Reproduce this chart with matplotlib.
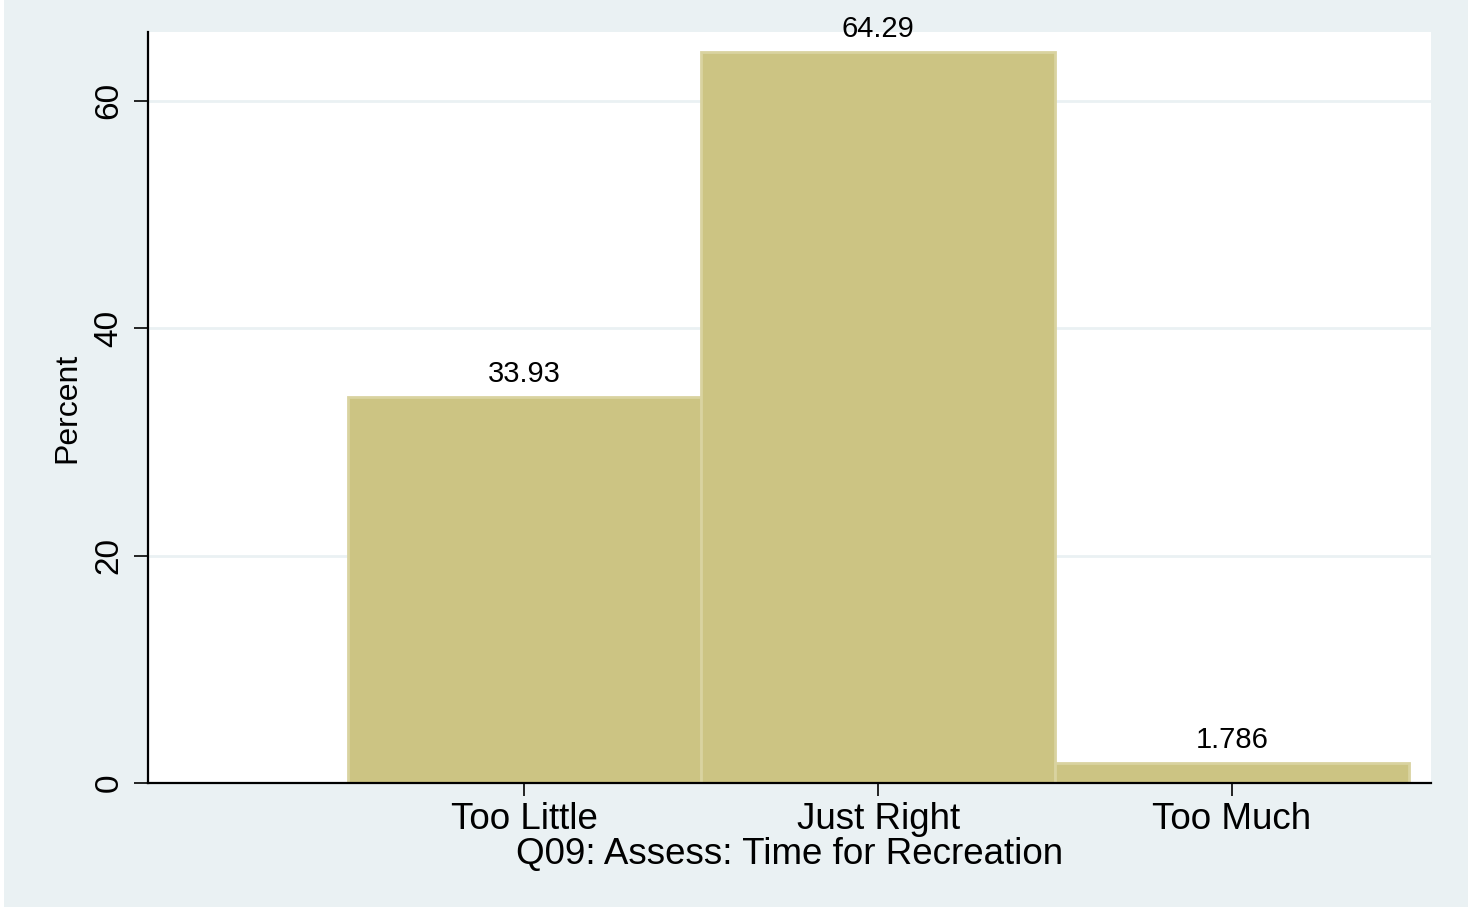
import matplotlib
matplotlib.use("Agg")
import matplotlib.pyplot as plt
from matplotlib.patches import Rectangle

# ==========================================================
# DATA
# ==========================================================
categories = ["Too Little", "Just Right", "Too Much"]
positions = [1, 2, 3]
percents = [33.93, 64.29, 1.786]
value_labels = ["33.93", "64.29", "1.786"]
y_ticks = [0, 20, 40, 60]

# Colours (Stata s2color-like)
bg_color = "#EAF1F3"
bar_fill = "#CCC483"
bar_edge = "#D9D3A0"
grid_color = "#EAF1F3"

plt.rcParams["font.family"] = ["Liberation Sans", "DejaVu Sans"]

fig = plt.figure(figsize=(14.68, 9.08), dpi=100, facecolor="white")
fig.patches.append(Rectangle((4 / 1468, 1 / 908), 1, 1, transform=fig.transFigure,
                             facecolor=bg_color, edgecolor="none", zorder=-10))

ax = fig.add_axes([148 / 1468, 125 / 908, 1283 / 1468, 751 / 908])
ax.set_facecolor("white")

ax.bar(positions, percents, width=1.0, color=bar_fill, edgecolor=bar_edge,
       linewidth=2.0, zorder=2)

for x, v, lab in zip(positions, percents, value_labels):
    ax.annotate(lab, (x, v), xytext=(0, 6.5), textcoords="offset points",
                ha="center", va="bottom", fontsize=21, clip_on=False)

ax.set_xlim(-0.064, 3.563)
ax.set_ylim(0, 66.05)

ax.set_yticks(y_ticks)
ax.set_yticklabels([str(t) for t in y_ticks], rotation=90, va="center")
ax.set_xticks(positions)
ax.set_xticklabels(categories)

ax.yaxis.grid(True, color=grid_color, linewidth=2.0, zorder=1)
ax.set_axisbelow(True)

for side in ["top", "right"]:
    ax.spines[side].set_visible(False)
for side in ["left", "bottom"]:
    ax.spines[side].set_linewidth(1.6)
    ax.spines[side].set_color("black")

ax.tick_params(axis="y", length=10, width=1.2, labelsize=24, pad=7)
ax.tick_params(axis="x", length=9.5, width=1.2, labelsize=26.5, pad=4)

ax.set_ylabel("Percent", fontsize=23, labelpad=8)
ax.set_xlabel("Q09: Assess: Time for Recreation", fontsize=26.5, labelpad=0)

fig.savefig("out.png", dpi=100, facecolor=fig.get_facecolor())
